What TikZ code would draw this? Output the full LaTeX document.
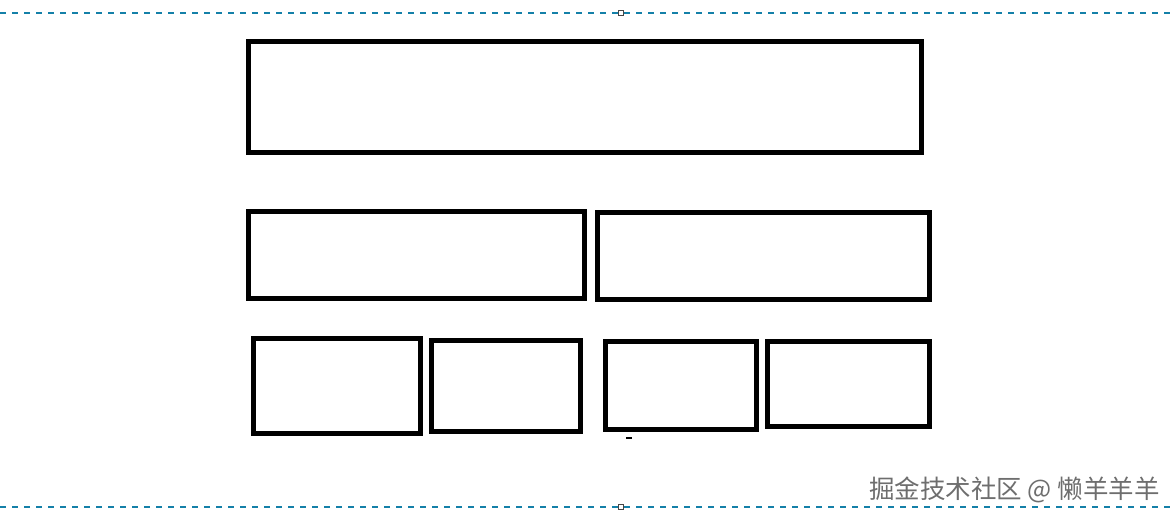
\documentclass[tikz,border=0pt]{standalone}
\usepackage{fontspec}
\newfontfamily\cjkfont{Noto Sans CJK SC}
\usetikzlibrary{positioning}
\definecolor{guideblue}{RGB}{20,128,168}
\definecolor{handlegray}{RGB}{70,70,70}
\definecolor{markgray}{RGB}{110,110,110}

\begin{document}
\begin{tikzpicture}[x=1pt, y=-1pt,
    blockbox/.style={draw, rectangle, line width=5pt, inner sep=0pt, outer sep=0pt},
    handle/.style={draw=handlegray, fill=white, rectangle, line width=0.9pt, minimum size=5pt, inner sep=0pt},
    guide/.style={guideblue, line width=1.3pt, dash pattern=on 6pt off 6pt}]
    \useasboundingbox (0,0) rectangle (1172,521);
    % Guides
    \coordinate (gtl) at (0,13);
    \coordinate (gtr) at (1172,13);
    \coordinate (gbl) at (0,507);
    \coordinate (gbr) at (1172,507);
    \draw[guide] (gtl) -- (gtr);
    \draw[guide] (gbl) -- (gbr);
    \node[handle] (htop) at (621,13) {};
    \node[handle] (hbot) at (621,507) {};
    % Nodes
    \node[blockbox, minimum width=673pt, minimum height=111pt] (top) at (585,97) {};
    \node[blockbox, minimum width=336pt, minimum height=87pt] (midleft) at (416.5,255) {};
    \node[blockbox, minimum width=332pt, minimum height=87pt] (midright) at (763.5,256) {};
    \node[blockbox, minimum width=167pt, minimum height=95pt] (low1) at (337,386) {};
    \node[blockbox, minimum width=149pt, minimum height=91pt] (low2) at (506,386) {};
    \node[blockbox, minimum width=151pt, minimum height=88pt] (low3) at (681,385.5) {};
    \node[blockbox, minimum width=162pt, minimum height=85pt] (low4) at (848.5,384) {};
    % small mark
    \draw[line width=1.2pt] (626,438) -- (632,438);
    % Watermark
    \node[anchor=west, inner sep=0pt, text=markgray, font=\cjkfont\fontsize{25.5}{25.5}\selectfont] (wm) at (869,490) {掘金技术社区 @ 懒羊羊羊};
\end{tikzpicture}
\end{document}
